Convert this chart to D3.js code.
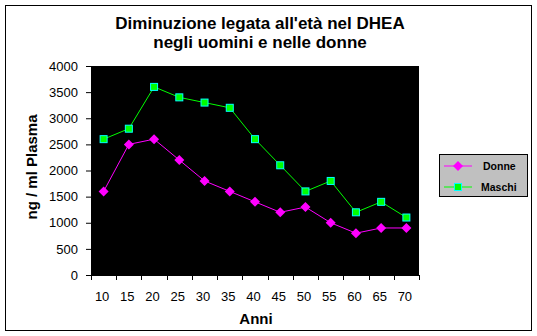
<!DOCTYPE html>
<html><head><meta charset="utf-8">
<script src="https://cdn.jsdelivr.net/npm/d3@7"></script>
<style>body{margin:0;background:#fff}svg{display:block}text{font-family:Arial,"Liberation Sans",sans-serif}</style>
</head><body><svg id="c" width="537" height="336"></svg>
<script>
const categories = ["10","15","20","25","30","35","40","45","50","55","60","65","70"];
const donne = [1600,2500,2600,2200,1800,1600,1400,1200,1300,1000,800,900,900];
const maschi = [2600,2800,3600,3400,3300,3200,2600,2100,1600,1800,1200,1400,1100];
const yTicks = [0,500,1000,1500,2000,2500,3000,3500,4000];
const titleLines = ["Diminuzione legata all'età nel DHEA","negli uomini e nelle donne"];

const svg = d3.select("#c");
svg.append("rect").attr("x",5.5).attr("y",5.5).attr("width",526).attr("height",325).attr("fill","#fff").attr("stroke","#000");

const L=91,R=419,T=66,B=275;
const x = d3.scaleBand().domain(categories).range([L,R]);
const y = d3.scaleLinear().domain([0,4000]).range([B,T]);

svg.append("rect").attr("x",L).attr("y",T).attr("width",R-L).attr("height",B-T).attr("fill","#000");

// y axis
const ya = svg.append("g").attr("transform",`translate(${L},0)`)
  .call(d3.axisLeft(y).tickValues(yTicks).tickSize(5).tickPadding(8).tickFormat(d3.format("d")));
ya.select(".domain").attr("stroke","#000");
ya.selectAll("text").attr("font-size",13).attr("font-family","Arial, Liberation Sans, sans-serif").attr("fill","#000");

// x axis
const xa = svg.append("g").attr("transform",`translate(0,${B})`);
xa.append("line").attr("x1",L).attr("x2",R).attr("y1",0.5).attr("y2",0.5).attr("stroke","#000");
const bounds = categories.map(c=>x(c)).concat([R]);
xa.selectAll("line.t").data(bounds).join("line").attr("class","t")
  .attr("x1",d=>Math.round(d)+0.5).attr("x2",d=>Math.round(d)+0.5).attr("y1",0).attr("y2",5).attr("stroke","#000");
xa.selectAll("text").data(categories).join("text")
  .attr("x",d=>x(d)+x.bandwidth()/2-1.5).attr("y",26).attr("text-anchor","middle")
  .attr("font-size",13).text(d=>d);

// lines
const line = d3.line().x((d,i)=>x(categories[i])+x.bandwidth()/2).y(d=>y(d));
svg.append("path").datum(maschi).attr("d",line).attr("fill","none").attr("stroke","#00ff00").attr("stroke-width",1);
svg.append("path").datum(donne).attr("d",line).attr("fill","none").attr("stroke","#ff00ff").attr("stroke-width",1);

const diamond = (g,cx,cy)=>g.append("path").attr("d",`M${cx},${cy-5}L${cx+5},${cy}L${cx},${cy+5}L${cx-5},${cy}Z`).attr("fill","#ff00ff");
const square = (g,cx,cy)=>g.append("rect").attr("x",cx-3.5).attr("y",cy-3.5).attr("width",7).attr("height",7).attr("fill","#00ff00").attr("stroke","#00ffff").attr("stroke-width",1);

const mg = svg.append("g");
maschi.forEach((v,i)=>square(mg,x(categories[i])+x.bandwidth()/2,y(v)));
const dg = svg.append("g");
donne.forEach((v,i)=>diamond(dg,x(categories[i])+x.bandwidth()/2,y(v)));

// title
titleLines.forEach((t,i)=>svg.append("text").attr("x",260).attr("y",29+i*19).attr("text-anchor","middle")
  .attr("font-size",17).attr("font-weight","bold").text(t));

// axis titles
svg.append("text").attr("x",256).attr("y",324).attr("text-anchor","middle").attr("font-size",15).attr("font-weight","bold").text("Anni");
svg.append("text").attr("transform","translate(37,167) rotate(-90)").attr("text-anchor","middle").attr("font-size",15).attr("font-weight","bold").text("ng / ml Plasma");

// legend
const lg = svg.append("g");
lg.append("rect").attr("x",439.5).attr("y",154.5).attr("width",88).attr("height",42).attr("fill","#c0c0c0").attr("stroke","#000");
lg.append("line").attr("x1",444).attr("x2",472).attr("y1",166).attr("y2",166).attr("stroke","#ff00ff");
diamond(lg,458,166);
lg.append("text").attr("x",483).attr("y",170).attr("font-size",10.5).attr("font-weight","bold").text("Donne");
lg.append("line").attr("x1",444).attr("x2",472).attr("y1",187).attr("y2",187).attr("stroke","#00ff00");
square(lg,458,187);
lg.append("text").attr("x",481).attr("y",191).attr("font-size",10.5).attr("font-weight","bold").text("Maschi");
</script></body></html>
